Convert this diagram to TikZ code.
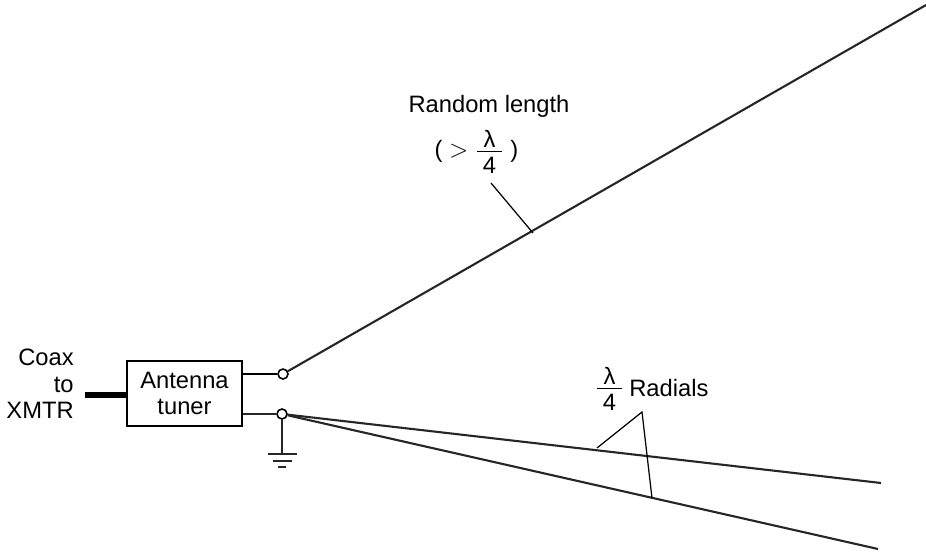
\documentclass[tikz,border=0pt]{standalone}
\usepackage{fontspec}
\setmainfont{Liberation Sans}
\newcommand{\lamfrac}{$\frac{\makebox[14pt]{λ}}{\mbox{\rule{0pt}{11.8pt}4}}$}
\begin{document}
\begin{tikzpicture}[
        lbl/.style     = {font=\fontsize{13.5}{15}\selectfont, align=center, inner sep=0pt},
        tunerbox/.style = {rectangle, draw, line width=1.3pt, minimum width=2.3cm,
                          minimum height=1.3cm, inner sep=0pt, lbl},
        term/.style    = {circle, draw, line width=0.9pt, fill=white,
                          minimum size=0.2cm, inner sep=0pt},
        wire/.style    = {line width=1.2pt, black!85},
        lead/.style    = {line width=0.7pt},
        coaxline/.style = {line width=3.4pt}
    ]
        \useasboundingbox (0, 0) rectangle (18.52, 11.1);

        \node[tunerbox] (tuner) at (3.69, 3.23) {Antenna\\tuner};
        \node[lbl, align=right, anchor=east] (coaxlbl) at (1.48, 3.42) {Coax\\to\\XMTR};
        \node[lbl] (randlbl) at (9.78, 8.98) {Random length};
        \node[lbl] (ratio) at (9.53, 8.06) {( $>$ \lamfrac\ )};
        \node[lbl] (radfrac) at (12.19, 3.32) {\lamfrac};
        \node[lbl, anchor=west] (radlbl) at (12.58, 3.34) {Radials};

        \coordinate (coax) at (1.70, 3.20);
        \coordinate (top)  at (18.52, 11.0);
        \coordinate (rad1) at (17.62, 1.44);
        \coordinate (rad2) at (17.56, 0.12);
        \coordinate (gnd)  at (5.64, 2.02);
        \coordinate (lentip)  at (9.82, 7.44);
        \coordinate (lenfoot) at (10.66, 6.44);
        \coordinate (radtip)  at (12.84, 2.86);
        \coordinate (radfoot) at (11.94, 2.14);
        \coordinate (radend)  at (13.04, 1.14);

        \draw[coaxline] (coax) -- (coax -| tuner.west);

        \node[term] (hot) at (5.66, 3.62) {};
        \node[term] (cold) at (5.64, 2.82) {};
        \draw[lead] (tuner.east |- hot) -- (hot);
        \draw[wire] (tuner.east |- cold) -- (cold);
        \draw[wire] (hot) -- (top);
        \draw[wire] (cold) -- (rad1);
        \draw[wire] (cold) -- (rad2);
        \draw[wire, line width=0.9pt] (cold) -- (gnd);

        % ground
        \draw[wire, line width=0.9pt] ([xshift=-0.29cm]gnd) -- ([xshift=0.29cm]gnd);
        \draw[wire, line width=0.9pt] ([xshift=-0.19cm, yshift=-0.14cm]gnd) -- ([xshift=0.19cm, yshift=-0.14cm]gnd);
        \draw[wire, line width=0.9pt] ([xshift=-0.08cm, yshift=-0.26cm]gnd) -- ([xshift=0.08cm, yshift=-0.26cm]gnd);

        \draw[lead] (lentip) -- (lenfoot);
        \draw[lead] (radfoot) -- (radtip) -- (radend);
    \end{tikzpicture}
\end{document}
